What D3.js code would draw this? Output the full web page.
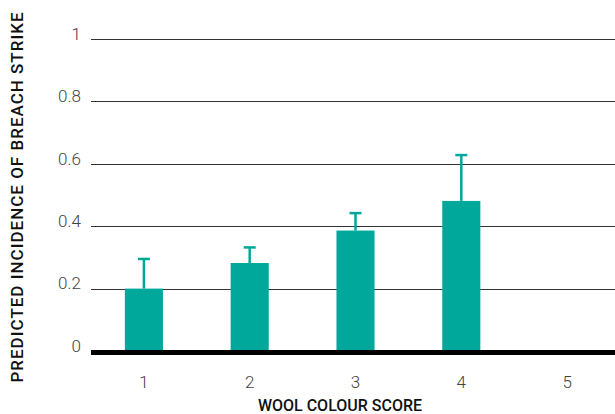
<!DOCTYPE html>
<html>
<head>
<meta charset="utf-8">
<script src="https://cdn.jsdelivr.net/npm/d3@7"></script>
<style>
body { margin: 0; background: #fff; }
svg { display: block; font-family: Roboto, "Noto Sans", sans-serif; }
.tick-label { fill: #444; font-size: 17px; font-weight: 300; }
.axis-title { fill: #111; font-size: 16px; font-weight: 500; }
</style>
</head>
<body>
<svg width="615" height="414"></svg>
<script>
// wool colour score categories
var scores = ["1", "2", "3", "4", "5"];
// predicted incidence (bar height) and upper error limit; score 5 has no bar
var incidence = [0.2, 0.282, 0.386, 0.481, null];
var upper = [0.295, 0.332, 0.442, 0.628, null];
var yTicks = [0, 0.2, 0.4, 0.6, 0.8, 1];

const svg = d3.select("svg");
const teal = "#00a79b";

var x = d3.scaleBand()
    .domain(scores)
    .range([91, 620])
    .paddingInner(0.64)
    .paddingOuter(0.32);

var y = d3.scaleLinear()
    .domain([0, 1])
    .range([351, 39]);

// gridlines
svg.append("g")
    .selectAll("line")
    .data(yTicks.filter(function(d){ return d > 0; }))
    .enter()
    .append("line")
    .attr("x1", 91)
    .attr("x2", 615)
    .attr("y1", function(d){ return Math.round(y(d)) + 0.5; })
    .attr("y2", function(d){ return Math.round(y(d)) + 0.5; })
    .attr("stroke", "#333")
    .attr("stroke-width", 1);

// y tick labels
svg.append("g")
    .selectAll("text")
    .data(yTicks)
    .enter()
    .append("text")
    .classed("tick-label", true)
    .attr("x", 81)
    .attr("y", function(d){ return y(d); })
    .attr("dy", "0.05em")
    .attr("text-anchor", "end")
    .text(function(d){ return d3.format("")(d); });

var data = scores.map(function(s, i){
    return { score: s, value: incidence[i], hi: upper[i] };
}).filter(function(d){ return d.value != null; });

// error bars (upper only)
var err = svg.append("g")
    .attr("stroke", teal)
    .attr("stroke-width", 2.5);
err.selectAll("line.stem")
    .data(data)
    .enter()
    .append("line")
    .attr("x1", function(d){ return x(d.score) + x.bandwidth() / 2; })
    .attr("x2", function(d){ return x(d.score) + x.bandwidth() / 2; })
    .attr("y1", function(d){ return y(d.value); })
    .attr("y2", function(d){ return y(d.hi); });
err.selectAll("line.cap")
    .data(data)
    .enter()
    .append("line")
    .attr("x1", function(d){ return x(d.score) + x.bandwidth() / 2 - 6; })
    .attr("x2", function(d){ return x(d.score) + x.bandwidth() / 2 + 6; })
    .attr("y1", function(d){ return y(d.hi); })
    .attr("y2", function(d){ return y(d.hi); });

// bars
svg.append("g")
    .selectAll("rect")
    .data(data)
    .enter()
    .append("rect")
    .attr("x", function(d){ return x(d.score); })
    .attr("width", x.bandwidth())
    .attr("y", function(d){ return y(d.value); })
    .attr("height", function(d){ return y(0) - y(d.value); })
    .attr("fill", teal);

// baseline
svg.append("line")
    .attr("x1", 91)
    .attr("x2", 615)
    .attr("y1", y(0) + 1.5)
    .attr("y2", y(0) + 1.5)
    .attr("stroke", "#000")
    .attr("stroke-width", 5);

// x tick labels
svg.append("g")
    .selectAll("text")
    .data(scores)
    .enter()
    .append("text")
    .classed("tick-label", true)
    .attr("x", function(d){ return x(d) + x.bandwidth() / 2; })
    .attr("y", 388)
    .attr("text-anchor", "middle")
    .text(function(d){ return d; });

// axis titles
svg.append("text")
    .classed("axis-title", true)
    .attr("x", 340)
    .attr("y", 411)
    .attr("text-anchor", "middle")
    .text("WOOL COLOUR SCORE");

svg.append("text")
    .classed("axis-title", true)
    .attr("transform", "translate(23,197) rotate(-90)")
    .attr("text-anchor", "middle")
    .style("font-size", "17px")
    .style("letter-spacing", "1px")
    .text("PREDICTED INCIDENCE OF BREACH STRIKE");
</script>
</body>
</html>
